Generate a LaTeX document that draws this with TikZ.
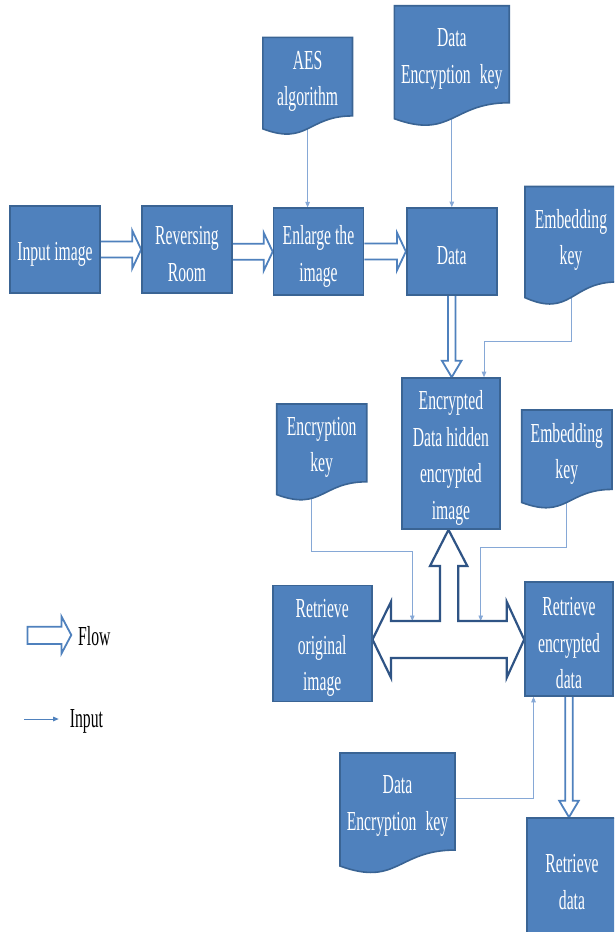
\documentclass[tikz,border=0pt]{standalone}
\usepackage{fontspec}
\setmainfont[FakeStretch=0.57]{Liberation Serif}
\usetikzlibrary{arrows.meta,calc}
\definecolor{boxfill}{HTML}{4F81BD}
\definecolor{boxline}{HTML}{3A6494}
\definecolor{thinblue}{HTML}{86A8D6}
\definecolor{flowblue}{HTML}{4F81BD}
\definecolor{tline}{HTML}{2F5485}
\pgfdeclarelayer{bg}\pgfdeclarelayer{paper}\pgfsetlayers{paper,bg,main}
\newcommand\docpath[4]{%
  \filldraw[docshape] (#1,#2) -- ({#1+#3},#2) -- ({#1+#3},{#2+0.802*#4})
    .. controls ({#1+#3/2},{#2+0.802*#4}) and ({#1+#3/2},{#2+1.107*#4}) .. (#1,{#2+0.934*#4}) -- cycle;}
\newcommand\hflow[2]{%
  \filldraw[flowarrow] ($(#1.east |- #2.west)+(0,-8)$) -- ($(#2.west)+(-9,-8)$) -- ($(#2.west)+(-9,-19)$)
    -- (#2.west) -- ($(#2.west)+(-9,19)$) -- ($(#2.west)+(-9,8)$) -- ($(#1.east |- #2.west)+(0,8)$);}
\newcommand\vflow[2]{%
  \filldraw[flowarrow] ($(#1.south)+(-3.8,0)$) -- ($(#1.south |- #2.north)+(-3.8,-16.5)$) -- ($(#1.south |- #2.north)+(-9.8,-16.5)$)
    -- (#1.south |- #2.north) -- ($(#1.south |- #2.north)+(9.8,-16.5)$) -- ($(#1.south |- #2.north)+(3.8,-16.5)$) -- ($(#1.south)+(3.8,0)$);}
\begin{document}
\begin{tikzpicture}[x=1pt,y=-1pt,
  txt/.style={font=\fontsize{27.5}{36.5}\selectfont},
  box/.style={draw=boxline,fill=boxfill,line width=1.6pt,inner sep=0pt},
  boxlbl/.style={txt,text=white,align=center,inner sep=0pt,yshift=-4.5pt},
  doctext/.style={txt,text=white,align=center,inner sep=0pt},
  docshape/.style={draw=boxline,fill=boxfill,line width=1.6pt},
  inputline/.style={draw=thinblue,line width=0.9pt,-{Triangle[length=5.5pt,width=4.5pt]}},
  flowarrow/.style={draw=flowblue,fill=white,line width=1.8pt,line join=miter},
  bigarrow/.style={draw=tline,fill=white,line width=2.2pt,line join=miter},
  legendtext/.style={txt,text=black,inner sep=0pt}]
\useasboundingbox (0,0) rectangle (614,932);
\clip (0,0) rectangle (614,932);
\begin{pgfonlayer}{paper}
  \fill[white] (0,0) rectangle (614,932);
\end{pgfonlayer}

% process boxes
\node[box,minimum width=90pt,minimum height=87pt,label={[boxlbl]center:Input image}] (in) at (55,249.7) {};
\node[box,minimum width=90pt,minimum height=87pt,label={[boxlbl]center:Reversing\\Room}] (rev) at (187,249.5) {};
\node[box,minimum width=90pt,minimum height=87pt,label={[boxlbl]center:Enlarge the\\image}] (enl) at (318.5,251.7) {};
\node[box,minimum width=90pt,minimum height=87pt,label={[boxlbl]center:Data}] (data) at (451.7,251.5) {};
\node[box,minimum width=98pt,minimum height=151pt,label={[boxlbl]center:Encrypted\\Data hidden\\encrypted\\image}] (enc) at (450.9,453.5) {};
\node[box,minimum width=99pt,minimum height=116pt,label={[boxlbl]center:Retrieve\\original\\image}] (rorig) at (322.2,643.4) {};
\node[box,minimum width=88pt,minimum height=114pt,label={[boxlbl]center:Retrieve\\encrypted\\data}] (renc) at (569,639) {};
\node[box,minimum width=90pt,minimum height=119pt,label={[boxlbl]center:Retrieve\\data}] (rdata) at (572,877.5) {};

% document shapes
\docpath{262.8}{37.3}{89.7}{98}
\node[doctext,text width=89.7pt] (aes) at (307.6,81.5) {AES\\algorithm};
\docpath{394.4}{5.7}{114.8}{121}
\node[doctext,text width=114.8pt] (dekt) at (451.8,59) {Data\\Encryption key};
\docpath{525}{186.5}{92}{119}
\node[doctext,text width=92pt] (embt) at (571,240) {Embedding\\key};
\docpath{276.7}{404}{90}{97}
\node[doctext,text width=90pt] (enck) at (321.7,447.5) {Encryption\\key};
\docpath{521.7}{410}{90.3}{99}
\node[doctext,text width=90.3pt] (embm) at (566.8,454) {Embedding\\key};
\docpath{340}{753}{115}{121}
\node[doctext,text width=115pt] (dekb) at (397.5,806) {Data\\Encryption key};

% legend
\node[legendtext,anchor=west] (lgflow) at (78,636) {Flow};
\node[legendtext,anchor=west] (lginput) at (69.7,721) {Input};

\begin{pgfonlayer}{bg}
  % input connectors
  \draw[inputline] (aes.center) -- (aes.center |- enl.north);
  \draw[inputline] (dekt.center) -- (dekt.center |- data.north);
  \coordinate (j1) at (484,341);
  \draw[inputline] (embt.center) |- (j1) -- (j1 |- enc.north);
  \coordinate (shtop) at (449,621);
  \coordinate (j2) at (412.3,551.7);
  \draw[inputline] ($(enck.center)+(-10.7,0)$) |- (j2) -- (j2 |- shtop);
  \coordinate (j3) at (480.7,547.7);
  \draw[inputline] (embm.center) |- (j3) -- (j3 |- shtop);
  \coordinate (j4) at (533.5,798);
  \draw[inputline] (dekb.east |- j4) -- (j4) -- (j4 |- renc.south);
  % flow arrows
  \hflow{in}{rev}
  \hflow{rev}{enl}
  \hflow{enl}{data}
  \vflow{data}{enc}
  \vflow{renc}{rdata}
  % big T-shaped double arrow
  \filldraw[bigarrow] (rorig.east |- 0,639.5) -- (391,601.7) -- (391,621) -- (440,621) -- (440,566) -- (430,566)
    -- (enc.south -| 448.5,0) -- (467.3,566) -- (458.3,566) -- (458.3,621) -- (506.7,621) -- (506.7,601.7)
    -- (renc.west |- 0,639.5) -- (506.7,677.7) -- (506.7,658) -- (391,658) -- (391,677.7) -- cycle;
\end{pgfonlayer}

% legend symbols
\filldraw[flowarrow] (27.4,626.7) -- (61.5,626.7) -- (61.5,616.5) -- ($(lgflow.west)+(-6.7,-1)$) -- (61.5,653.5) -- (61.5,644) -- (27.4,644) -- cycle;
\coordinate (lg1) at (24,719);
\draw[inputline,draw=flowblue] (lg1) -- ($(lginput.west |- lg1)+(-11,0)$);
\end{tikzpicture}
\end{document}
